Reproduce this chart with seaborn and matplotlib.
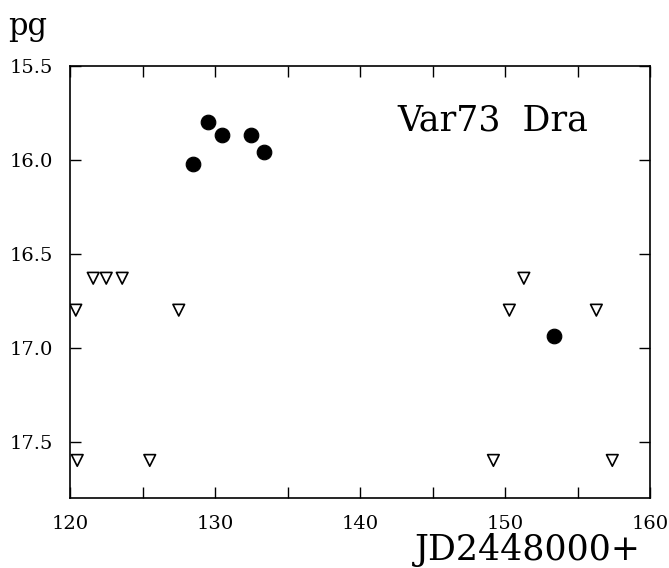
import matplotlib
matplotlib.use("Agg")
import matplotlib.pyplot as plt
import seaborn as sns
import pandas as pd

# Detections (filled circles)
det_jd = [128.5, 129.5, 130.5, 132.5, 133.4, 153.4]
det_mag = [16.02, 15.80, 15.87, 15.87, 15.96, 16.94]

# Upper limits (open triangles)
lim_jd = [120.4, 121.6, 122.5, 123.6, 127.5, 120.5, 125.5,
          151.3, 150.3, 156.3, 149.2, 157.4]
lim_mag = [16.80, 16.63, 16.63, 16.63, 16.80, 17.60, 17.60,
           16.63, 16.80, 16.80, 17.60, 17.60]

det = pd.DataFrame({"jd": det_jd, "mag": det_mag})
lim = pd.DataFrame({"jd": lim_jd, "mag": lim_mag})

sns.set_style("ticks")
plt.rcParams["font.family"] = ["DejaVu Serif"]
plt.rcParams["text.color"] = "black"
plt.rcParams["xtick.color"] = "black"
plt.rcParams["ytick.color"] = "black"
plt.rcParams["axes.edgecolor"] = "black"

fig = plt.figure(figsize=(6.69, 5.68), dpi=100)
ax = fig.add_axes([70 / 669, 1 - 498 / 568, 580 / 669, 432 / 568])

sns.scatterplot(data=lim, x="jd", y="mag", marker="v", s=70,
                facecolor="none", edgecolor="black", linewidth=1.2, ax=ax)
sns.scatterplot(data=det, x="jd", y="mag", marker="o", s=110,
                color="black", edgecolor="black", ax=ax)

ax.set_xlim(120, 160)
ax.set_ylim(17.8, 15.5)
ax.set_xticks([120, 130, 140, 150, 160])
ax.set_xticks([125, 135, 145, 155], minor=True)
ax.set_yticks([15.5, 16.0, 16.5, 17.0, 17.5])
ax.set_yticklabels(["15.5", "16.0", "16.5", "17.0", "17.5"])
ax.tick_params(which="both", direction="in", top=True, right=True,
               length=8, width=1, labelsize=14)
ax.tick_params(axis="x", pad=12)
ax.tick_params(axis="y", pad=12)
for s in ax.spines.values():
    s.set_linewidth(1.2)

ax.set_xlabel("")
ax.set_ylabel("")
ax.text(0.565, 0.873, "Var73  Dra", transform=ax.transAxes,
        fontsize=25, va="center", ha="left")
fig.text(8 / 669, 1 - 26 / 568, "pg", fontsize=22, va="center", ha="left")
fig.text(641 / 669, 1 - 550 / 568, "JD2448000+", fontsize=25,
         va="center", ha="right")

fig.savefig("out.png", dpi=100)
